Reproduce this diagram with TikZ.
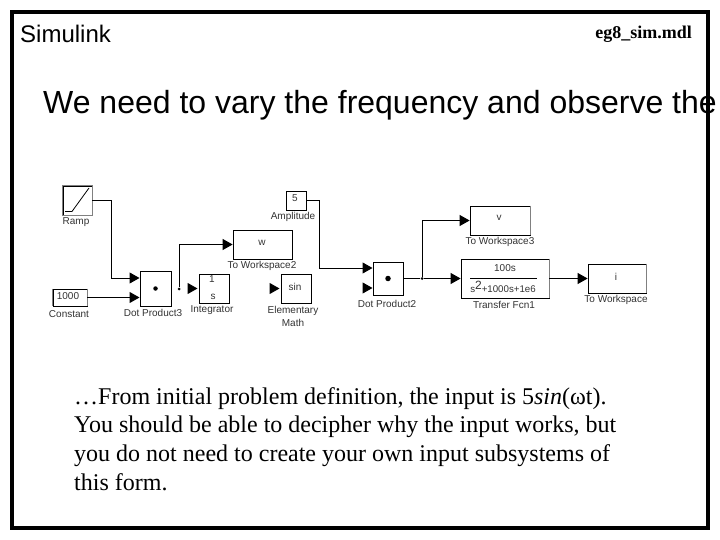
\documentclass[tikz,border=0pt]{standalone}
\usepackage{fontspec}
\setmainfont{Liberation Serif}
\setsansfont{Liberation Sans}
\usetikzlibrary{arrows.meta}
\tikzset{
  block/.style={draw=black,line width=0.8pt,fill=white,inner sep=0pt},
  blocklabel/.style={inner sep=0pt,align=center,font=\sffamily\fontsize{10}{13.5}\selectfont,text=black!80},
  wire/.style={draw=black,line width=1pt},
  arrowwire/.style={wire,-{Triangle[length=10pt,width=11pt]}},
  blockshade/.style={draw=black!50,line width=1.6pt},
  junction/.style={circle,fill=black,inner sep=0pt,minimum size=3pt},
  bodytext/.style={inner sep=0pt,anchor=base west,font=\fontsize{24}{29}\selectfont}
}
\begin{document}
\begin{tikzpicture}[x=1pt,y=-1pt]
\useasboundingbox (0,0) rectangle (720,540);
\fill[white] (0,0) rectangle (720,540);
\draw[line width=4pt] (12,12) rectangle (708,528);
% headings
\node[inner sep=0pt,anchor=base west,font=\sffamily\fontsize{24}{28}\selectfont] (head) at (20,43) {Simulink};
\node[inner sep=0pt,anchor=base east,font=\bfseries\fontsize{18}{20}\selectfont] (file) at (692,39) {eg8\_sim.mdl};
\node[inner sep=0pt,anchor=base west,font=\sffamily\fontsize{32}{36}\selectfont] (title) at (43,114) {We need to vary the frequency and observe the};
% blocks
\node[block,minimum width=29pt,minimum height=29pt] (ramp) at (77.5,200.5) {};
\node[block,minimum width=34pt,minimum height=17pt] (const) at (70,297.5) {};
\node[block,minimum width=31pt,minimum height=35pt] (dot3) at (155.5,288.5) {};
\node[block,minimum width=59pt,minimum height=29pt] (tow2) at (262.5,244.5) {};
\node[block,minimum width=30pt,minimum height=29pt] (integ) at (214,288.5) {};
\node[block,minimum width=30pt,minimum height=29pt] (elem) at (296,288.5) {};
\node[block,minimum width=20pt,minimum height=19pt] (amp) at (296,200.5) {};
\node[block,minimum width=30pt,minimum height=33pt] (dot2) at (388,278.5) {};
\node[block,minimum width=60pt,minimum height=29pt] (tow3) at (500,220.5) {};
\node[block,minimum width=88pt,minimum height=39pt] (tf) at (505,278.5) {};
\node[block,minimum width=58pt,minimum height=29pt] (tow) at (617,278.5) {};
% block shading
\draw[blockshade] (ramp.north west) rectangle (ramp.south east);
\draw[blockshade] (const.north west) -- (const.south west);
\draw[blockshade] (const.north east) -- (const.south east);
\draw[blockshade] (tow3.north east) -- (tow3.south east);
\draw[blockshade] (tf.north east) -- (tf.south east);
\draw[blockshade] (tow.north east) -- (tow.south east);
% block contents
\draw[line width=0.8pt] (65,211.5) -- (72,211.5) -- (89,188);
\node[junction,minimum size=4.5pt] (dot3c) at (dot3.center) {};
\node[junction,minimum size=5.5pt] (dot2c) at (dot2.center) {};
\node[blocklabel] (tconst) at (68,296.5) {1000};
\node[blocklabel] (tw) at (262,243) {w};
\node[blocklabel] (tsin) at (295,287) {sin};
\node[blocklabel] (tfive) at (295,198.5) {5};
\node[blocklabel] (tv) at (499,218) {v};
\node[blocklabel] (ti) at (616,277) {i};
\node[blocklabel] (one) at (212,279) {1};
\node[blocklabel] (ess) at (213,297) {s};
\node[blocklabel] (num) at (505,268.5) {100s};
\draw[line width=0.7pt] (470,278.5) -- (537,278.5);
\node[blocklabel,font=\sffamily\fontsize{9.7}{11}\selectfont] (den) at (503,287) {s\raisebox{2.5pt}{\fontsize{12}{12}\selectfont 2}+1000s+1e6};
% captions
\node[blocklabel] (lramp) at (76,222) {Ramp};
\node[blocklabel] (lconst) at (69,314) {Constant};
\node[blocklabel] (ldot3) at (153,313) {Dot Product3};
\node[blocklabel] (lint) at (212,310) {Integrator};
\node[blocklabel] (lelem) at (293,316.5) {Elementary\\Math};
\node[blocklabel] (lamp) at (293,217) {Amplitude};
\node[blocklabel] (ltow2) at (262,266) {To Workspace2};
\node[blocklabel] (ldot2) at (387,303.5) {Dot Product2};
\node[blocklabel] (ltow3) at (500,242) {To Workspace3};
\node[blocklabel] (ltf) at (504,305) {Transfer Fcn1};
\node[blocklabel] (ltow) at (616,300) {To Workspace};
% connectors
\coordinate (rampbend) at (111,200.5);
\coordinate (dot3in1) at (139.5,278);
\coordinate (dot3in2) at (139.5,297.5);
\coordinate (ampbend) at (319,200.5);
\coordinate (dot2in1) at (372.5,268);
\coordinate (dot2free) at (363,288);
\coordinate (dot2in2) at (372.5,288);
\coordinate (intfree) at (188,288.5);
\coordinate (intin) at (197.5,288.5);
\coordinate (elfree) at (270,288.5);
\coordinate (elin) at (279.5,288.5);
\node[junction] (branch) at (422,278.5) {};
\node[junction] (dot3end) at (179,289) {};
\draw[arrowwire] (ramp.east) -- (rampbend) |- (dot3in1);
\draw[arrowwire] (const.east) -- (dot3in2);
\draw[arrowwire] (dot3end) |- (tow2.west);
\draw[arrowwire] (intfree) -- (intin);
\draw[arrowwire] (elfree) -- (elin);
\draw[arrowwire] (amp.east) -- (ampbend) |- (dot2in1);
\draw[arrowwire] (dot2free) -- (dot2in2);
\draw[wire] (dot2.east) -- (branch);
\draw[arrowwire] (branch) -- (tf.west);
\draw[arrowwire] (branch) |- (tow3.west);
\draw[arrowwire] (tf.east) -- (tow.west);
% body
\node[bodytext] (l1) at (74,404) {…From initial problem definition, the input is 5\textit{sin}(ωt).};
\node[bodytext] (l2) at (74,432) {You should be able to decipher why the input works, but};
\node[bodytext] (l3) at (74,461) {you do not need to create your own input subsystems of};
\node[bodytext] (l4) at (74,490) {this form.};
\end{tikzpicture}
\end{document}
